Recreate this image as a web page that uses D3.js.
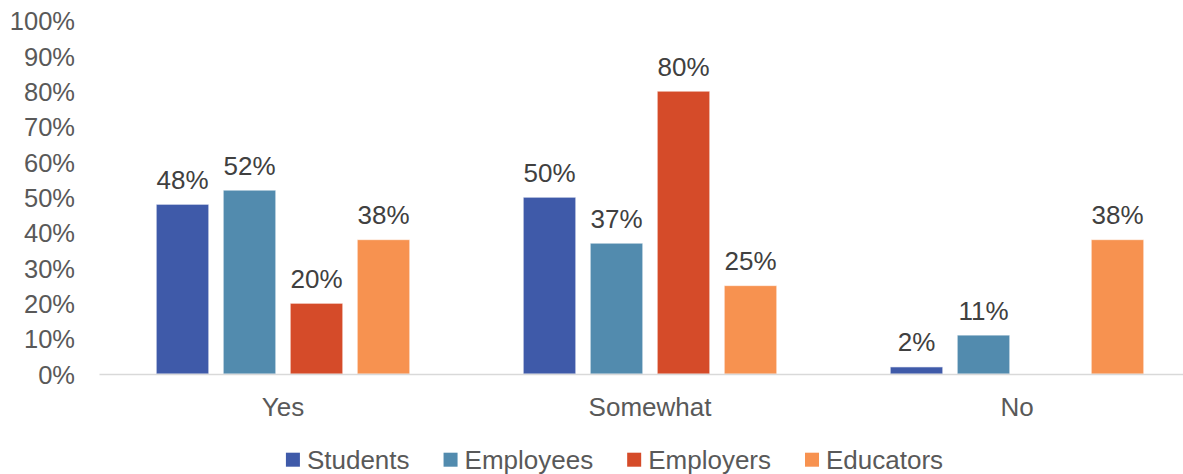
<!DOCTYPE html>
<html>
<head>
<meta charset="utf-8">
<script src="https://cdn.jsdelivr.net/npm/d3@7/dist/d3.min.js"></script>
<style>
  html, body { margin: 0; padding: 0; background: #fff; }
  svg { display: block; font-family: "Liberation Sans", Arial, sans-serif; }
</style>
</head>
<body>
<svg id="chart" width="1183" height="474"></svg>
<script>
const categories = ["Yes", "Somewhat", "No"];
const seriesNames = ["Students", "Employees", "Employers", "Educators"];
const seriesColors = ["#3F5AA9", "#528BAE", "#D54B29", "#F79250"];
const students  = [0.48, 0.50, 0.02];
const employees = [0.52, 0.37, 0.11];
const employers = [0.20, 0.80, 0.00];
const educators = [0.38, 0.25, 0.38];
const yTicks = [0, 0.1, 0.2, 0.3, 0.4, 0.5, 0.6, 0.7, 0.8, 0.9, 1.0];
const seriesValues = [students, employees, employers, educators];

const svg = d3.select("#chart");
const W = 1183, H = 474;

const x0 = d3.scaleBand().domain(categories).range([99.5, 1200.5]).paddingInner(0).paddingOuter(0);
const x1 = d3.scaleBand().domain(seriesNames).range([0, x0.bandwidth()])
  .paddingInner(0.2164).paddingOuter(0.847);
const y = d3.scaleLinear().domain([0, 1]).range([374, 20.5]);

// y tick labels
const yAxis = d3.axisLeft(y).tickValues(yTicks).tickFormat(d3.format(".0%")).tickSize(0).tickPadding(0);
const gy = svg.append("g").attr("transform", "translate(75,0)").call(yAxis);
gy.select(".domain").remove();
gy.selectAll("text").attr("font-size", 25.5).attr("fill", "#595959")
  .attr("font-family", "Liberation Sans, Arial, sans-serif").attr("dy", "0.36em");

// bars
const data = [];
categories.forEach((c, i) => {
  seriesNames.forEach((s, j) => {
    data.push({cat: c, series: s, value: seriesValues[j][i], color: seriesColors[j]});
  });
});

svg.append("g").selectAll("rect").data(data.filter(d => d.value > 0)).join("rect")
  .attr("x", d => x0(d.cat) + x1(d.series))
  .attr("y", d => y(d.value))
  .attr("width", x1.bandwidth())
  .attr("height", d => y(0) - y(d.value))
  .attr("fill", d => d.color)
  .attr("stroke", "rgba(255,255,255,0.6)")
  .attr("stroke-width", 1);

// x axis
const xAxis = d3.axisBottom(x0).tickSize(0).tickPadding(0);
const gx = svg.append("g").attr("transform", `translate(0,${y(0)})`).call(xAxis);
gx.select(".domain").attr("stroke", "#D9D9D9").attr("stroke-width", 1.5)
  .attr("d", `M99.5,0.5H1200.5`);
gx.selectAll("text").attr("font-size", 26).attr("fill", "#595959")
  .attr("font-family", "Liberation Sans, Arial, sans-serif").attr("dy", 0).attr("y", 42);

// data labels
svg.append("g").selectAll("text").data(data.filter(d => d.value > 0)).join("text")
  .attr("x", d => x0(d.cat) + x1(d.series) + x1.bandwidth() / 2)
  .attr("y", d => y(d.value) - 15.5)
  .attr("text-anchor", "middle")
  .attr("font-size", 26)
  .attr("fill", "#404040")
  .text(d => d3.format(".0%")(d.value));

// legend
const lg = svg.append("g");
const items = lg.selectAll("g").data(seriesNames).join("g");
items.append("rect").attr("width", 14).attr("height", 14).attr("y", 452.7)
  .attr("fill", (d, i) => seriesColors[i]);
items.append("text").attr("x", 21).attr("y", 468.7).attr("font-size", 26)
  .attr("fill", "#595959").text(d => d);
let xpos = 0;
const widths = [];
items.each(function() {
  const tw = d3.select(this).select("text").node().getComputedTextLength();
  widths.push(21 + tw);
});
const gap = 34;
const total = d3.sum(widths) + gap * (widths.length - 1);
let start = 614.5 - total / 2;
items.attr("transform", (d, i) => {
  const t = `translate(${start},0)`;
  start += widths[i] + gap;
  return t;
});
</script>
</body>
</html>
